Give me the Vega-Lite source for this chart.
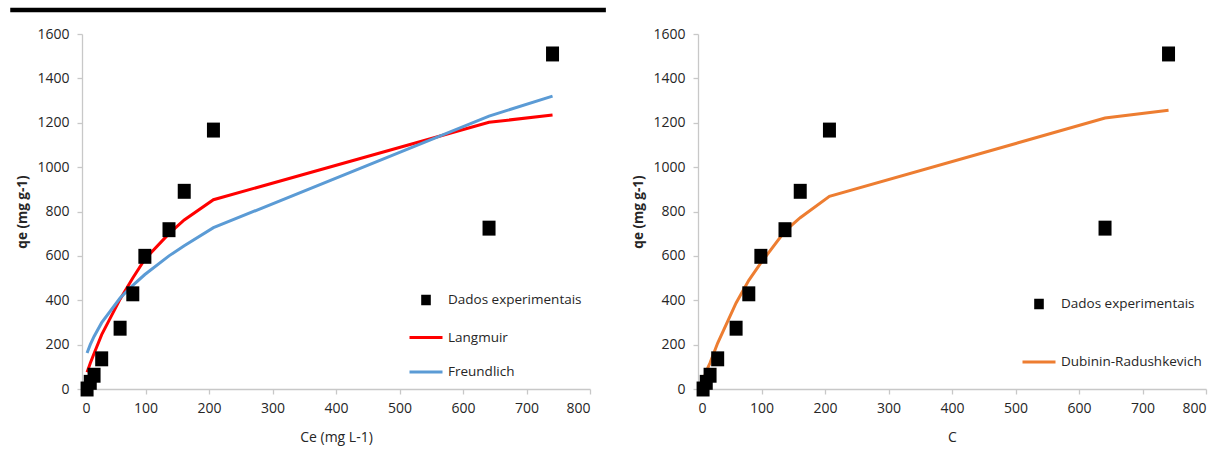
{
  "$schema": "https://vega.github.io/schema/vega-lite/v6.json",
  "padding": {"left": 7, "top": 7, "right": 2, "bottom": 2},
  "bounds": "flush",
  "spacing": 108,
  "datasets": {
    "pts": [
      {"Ce": 8, "qe": 0, "series": "Dados experimentais"},
      {"Ce": 13, "qe": 30, "series": "Dados experimentais"},
      {"Ce": 19, "qe": 62, "series": "Dados experimentais"},
      {"Ce": 31, "qe": 136, "series": "Dados experimentais"},
      {"Ce": 60, "qe": 274, "series": "Dados experimentais"},
      {"Ce": 80, "qe": 429, "series": "Dados experimentais"},
      {"Ce": 99, "qe": 598, "series": "Dados experimentais"},
      {"Ce": 137, "qe": 718, "series": "Dados experimentais"},
      {"Ce": 161, "qe": 891, "series": "Dados experimentais"},
      {"Ce": 207, "qe": 1167, "series": "Dados experimentais"},
      {"Ce": 641, "qe": 725, "series": "Dados experimentais"},
      {"Ce": 741, "qe": 1510, "series": "Dados experimentais"}
    ],
    "left_fit": [
      {"Ce": 8, "qe": 76, "series": "Langmuir"},
      {"Ce": 13, "qe": 116, "series": "Langmuir"},
      {"Ce": 19, "qe": 160, "series": "Langmuir"},
      {"Ce": 31, "qe": 245, "series": "Langmuir"},
      {"Ce": 60, "qe": 405, "series": "Langmuir"},
      {"Ce": 80, "qe": 500, "series": "Langmuir"},
      {"Ce": 99, "qe": 585, "series": "Langmuir"},
      {"Ce": 137, "qe": 700, "series": "Langmuir"},
      {"Ce": 161, "qe": 762, "series": "Langmuir"},
      {"Ce": 207, "qe": 853, "series": "Langmuir"},
      {"Ce": 641, "qe": 1202, "series": "Langmuir"},
      {"Ce": 741, "qe": 1235, "series": "Langmuir"},
      {"Ce": 8, "qe": 162, "series": "Freundlich"},
      {"Ce": 13, "qe": 200, "series": "Freundlich"},
      {"Ce": 19, "qe": 237, "series": "Freundlich"},
      {"Ce": 31, "qe": 299, "series": "Freundlich"},
      {"Ce": 60, "qe": 410, "series": "Freundlich"},
      {"Ce": 80, "qe": 467, "series": "Freundlich"},
      {"Ce": 99, "qe": 516, "series": "Freundlich"},
      {"Ce": 137, "qe": 600, "series": "Freundlich"},
      {"Ce": 161, "qe": 646, "series": "Freundlich"},
      {"Ce": 207, "qe": 727, "series": "Freundlich"},
      {"Ce": 641, "qe": 1230, "series": "Freundlich"},
      {"Ce": 741, "qe": 1320, "series": "Freundlich"}
    ],
    "right_fit": [
      {"Ce": 8, "qe": 35, "series": "Dubinin-Radushkevich"},
      {"Ce": 13, "qe": 80, "series": "Dubinin-Radushkevich"},
      {"Ce": 19, "qe": 118, "series": "Dubinin-Radushkevich"},
      {"Ce": 31, "qe": 207, "series": "Dubinin-Radushkevich"},
      {"Ce": 60, "qe": 388, "series": "Dubinin-Radushkevich"},
      {"Ce": 80, "qe": 490, "series": "Dubinin-Radushkevich"},
      {"Ce": 99, "qe": 568, "series": "Dubinin-Radushkevich"},
      {"Ce": 137, "qe": 712, "series": "Dubinin-Radushkevich"},
      {"Ce": 161, "qe": 772, "series": "Dubinin-Radushkevich"},
      {"Ce": 207, "qe": 868, "series": "Dubinin-Radushkevich"},
      {"Ce": 641, "qe": 1221, "series": "Dubinin-Radushkevich"},
      {"Ce": 741, "qe": 1256, "series": "Dubinin-Radushkevich"}
    ]
  },
  "hconcat": [
    {
      "width": 508,
      "height": 355,
      "layer": [
        {
          "data": {"values": [{}]},
          "mark": {"type": "rule", "color": "#000000", "strokeWidth": 4.5},
          "encoding": {
            "x": {"datum": -113, "type": "quantitative", "scale": {"domain": [0, 800], "nice": false}, "axis": {"title": "Ce (mg L-1)", "values": [0, 100, 200, 300, 400, 500, 600, 700, 800]}},
            "x2": {"datum": 825},
            "y": {"datum": 1708, "type": "quantitative", "scale": {"domain": [0, 1600], "nice": false}, "axis": {"title": "qe (mg g-1)", "values": [0, 200, 400, 600, 800, 1000, 1200, 1400, 1600]}}
          }
        },
        {
          "data": {"name": "left_fit"},
          "mark": {"type": "line", "strokeWidth": 3},
          "encoding": {
            "x": {"field": "Ce", "type": "quantitative", "scale": {"domain": [0, 800], "nice": false}, "axis": {"title": "Ce (mg L-1)", "values": [0, 100, 200, 300, 400, 500, 600, 700, 800]}},
            "y": {"field": "qe", "type": "quantitative", "scale": {"domain": [0, 1600], "nice": false}, "axis": {"title": "qe (mg g-1)", "values": [0, 200, 400, 600, 800, 1000, 1200, 1400, 1600]}},
            "color": {"field": "series", "type": "nominal", "scale": {"domain": ["Dados experimentais", "Langmuir", "Freundlich"], "range": ["#000000", "#FF0000", "#5B9BD5"]}, "legend": {"orient": "none", "legendX": 326, "legendY": 248, "title": null, "rowPadding": 9.5}}
          }
        },
        {
          "data": {"name": "pts"},
          "mark": {"type": "point", "filled": true, "opacity": 1, "size": 4225},
          "encoding": {
            "x": {"field": "Ce", "type": "quantitative", "scale": {"domain": [0, 800], "nice": false}, "axis": {"title": "Ce (mg L-1)", "values": [0, 100, 200, 300, 400, 500, 600, 700, 800]}},
            "y": {"field": "qe", "type": "quantitative", "scale": {"domain": [0, 1600], "nice": false}, "axis": {"title": "qe (mg g-1)", "values": [0, 200, 400, 600, 800, 1000, 1200, 1400, 1600]}},
            "color": {"field": "series", "type": "nominal", "scale": {"domain": ["Dados experimentais", "Langmuir", "Freundlich"], "range": ["#000000", "#FF0000", "#5B9BD5"]}, "legend": {"orient": "none", "legendX": 326, "legendY": 248, "title": null, "rowPadding": 9.5}},
            "shape": {"field": "series", "type": "nominal", "scale": {"domain": ["Dados experimentais", "Langmuir", "Freundlich"], "range": ["M-0.2,-0.23H0.2V0.23H-0.2Z", "stroke", "stroke"]}, "legend": {"orient": "none", "legendX": 326, "legendY": 248, "title": null, "rowPadding": 9.5}}
          }
        }
      ]
    },
    {
      "width": 508,
      "height": 355,
      "layer": [
        {
          "data": {"name": "right_fit"},
          "mark": {"type": "line", "strokeWidth": 3},
          "encoding": {
            "x": {"field": "Ce", "type": "quantitative", "scale": {"domain": [0, 800], "nice": false}, "axis": {"title": "C", "values": [0, 100, 200, 300, 400, 500, 600, 700, 800]}},
            "y": {"field": "qe", "type": "quantitative", "scale": {"domain": [0, 1600], "nice": false}, "axis": {"title": "qe (mg g-1)", "values": [0, 200, 400, 600, 800, 1000, 1200, 1400, 1600]}},
            "color": {"field": "series", "type": "nominal", "scale": {"domain": ["Dados experimentais", "Dubinin-Radushkevich"], "range": ["#000000", "#ED7D31"]}, "legend": {"orient": "none", "legendX": 323, "legendY": 252, "title": null, "rowPadding": 30}}
          }
        },
        {
          "data": {"name": "pts"},
          "mark": {"type": "point", "filled": true, "opacity": 1, "size": 4225},
          "encoding": {
            "x": {"field": "Ce", "type": "quantitative", "scale": {"domain": [0, 800], "nice": false}, "axis": {"title": "C", "values": [0, 100, 200, 300, 400, 500, 600, 700, 800]}},
            "y": {"field": "qe", "type": "quantitative", "scale": {"domain": [0, 1600], "nice": false}, "axis": {"title": "qe (mg g-1)", "values": [0, 200, 400, 600, 800, 1000, 1200, 1400, 1600]}},
            "color": {"field": "series", "type": "nominal", "scale": {"domain": ["Dados experimentais", "Dubinin-Radushkevich"], "range": ["#000000", "#ED7D31"]}, "legend": {"orient": "none", "legendX": 323, "legendY": 252, "title": null, "rowPadding": 30}},
            "shape": {"field": "series", "type": "nominal", "scale": {"domain": ["Dados experimentais", "Dubinin-Radushkevich"], "range": ["M-0.2,-0.23H0.2V0.23H-0.2Z", "stroke"]}, "legend": {"orient": "none", "legendX": 323, "legendY": 252, "title": null, "rowPadding": 30}}
          }
        }
      ]
    }
  ],
  "resolve": {
    "scale": {"color": "independent", "shape": "independent", "x": "independent", "y": "independent"},
    "legend": {"color": "independent", "shape": "independent"}
  },
  "config": {
    "font": "Open Sans",
    "view": {"stroke": null},
    "axis": {
      "grid": false,
      "format": "d",
      "domainColor": "#C8C8C8",
      "domainWidth": 1.3,
      "tickColor": "#C8C8C8",
      "tickWidth": 1.3,
      "tickSize": 5,
      "labelColor": "#262626",
      "labelFont": "Open Sans",
      "labelFontSize": 14,
      "titleColor": "#262626",
      "titleFont": "Open Sans",
      "titleFontSize": 14,
      "titleFontWeight": "normal"
    },
    "axisY": {"titleFontWeight": "bold", "titleFontSize": 13.5, "labelPadding": 8, "titlePadding": 7},
    "axisX": {"labelPadding": 7, "titlePadding": 15},
    "legend": {
      "labelFont": "Open Sans",
      "labelFontSize": 13.5,
      "labelColor": "#262626",
      "symbolSize": 1089,
      "symbolStrokeWidth": 3,
      "labelOffset": 4,
      "padding": 0
    }
  }
}
